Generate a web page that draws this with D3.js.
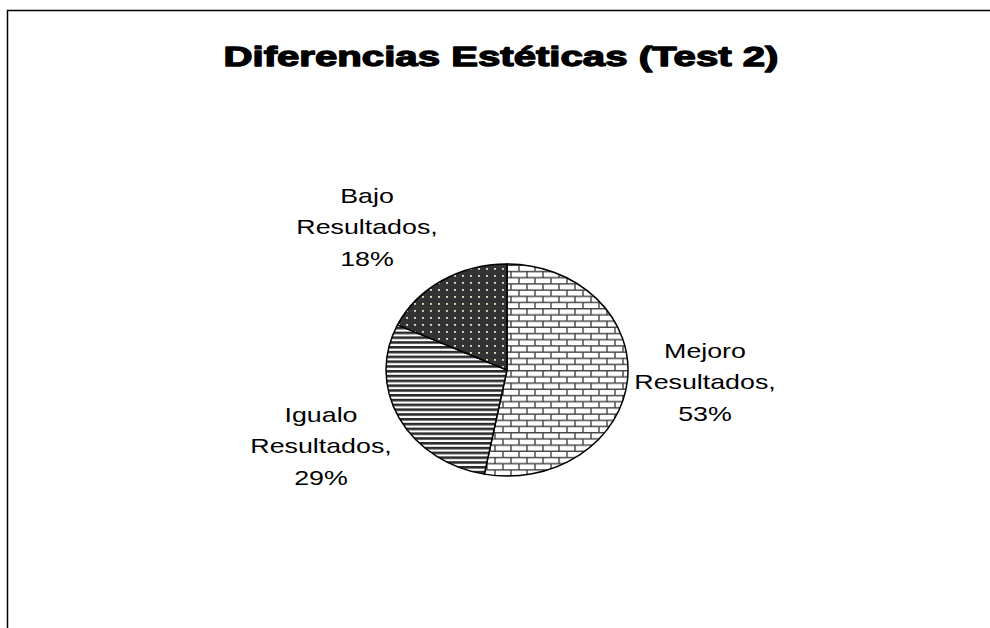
<!DOCTYPE html>
<html>
<head>
<meta charset="utf-8">
<script src="https://cdn.jsdelivr.net/npm/d3@7"></script>
<style>
  html, body { margin: 0; padding: 0; background: #fff; }
  svg { display: block; }
</style>
</head>
<body>
<svg id="chart" width="990" height="628"></svg>
<script>
// ---- data ----
const title = "Diferencias Estéticas (Test 2)";
const categories = ["Mejoro Resultados", "Igualo Resultados", "Bajo Resultados"];
const values = [53, 29, 18];
const patterns = ["brick", "hstripe", "dots"];

// ---- layout ----
const W = 990, H = 628;
const cx = 507, cy = 370, rx = 121, ry = 106;
// first-line baseline offsets of each label relative to pie centre (layout only)
const labelOffsets = [[198, -12], [-186, 52], [-140, -167]];
const lineGap = 31.5;
const textStretch = 1.34;

const svg = d3.select("#chart");
const defs = svg.append("defs");
const k = rx / ry;

// brick pattern
const pb = defs.append("pattern").attr("id", "brick")
  .attr("patternUnits", "userSpaceOnUse").attr("width", 16).attr("height", 12.4)
  .attr("patternTransform", `scale(1, ${k})`);
pb.append("rect").attr("width", 16).attr("height", 12.4).attr("fill", "#fff");
pb.append("path").attr("d", "M0,0.7H16 M0,6.9H16 M4,0V6.2 M12,6.2V12.4")
  .attr("stroke", "#444").attr("stroke-width", 1.4).attr("fill", "none");

// horizontal stripes
const ph = 4.8;
const ps = defs.append("pattern").attr("id", "hstripe")
  .attr("patternUnits", "userSpaceOnUse").attr("width", 8).attr("height", ph)
  .attr("patternTransform", `scale(1, ${k})`);
ps.append("rect").attr("width", 8).attr("height", ph).attr("fill", "#fff");
ps.append("rect").attr("y", 0).attr("width", 8).attr("height", 2.6).attr("fill", "#2a2a2a");

// dots
const pd = defs.append("pattern").attr("id", "dots")
  .attr("patternUnits", "userSpaceOnUse").attr("width", 8).attr("height", 14)
  .attr("patternTransform", `scale(1, ${k})`);
pd.append("rect").attr("width", 8).attr("height", 14).attr("fill", "#333");
pd.append("rect").attr("x", 3).attr("y", 3).attr("width", 2).attr("height", 1.8).attr("fill", "#dcdcbc");
pd.append("rect").attr("x", 3).attr("y", 10).attr("width", 2).attr("height", 1.8).attr("fill", "#dcdcbc");

// frame
svg.append("path").attr("d", `M7.5,${H+5} V10.5 H${W+5}`)
  .attr("fill", "none").attr("stroke", "#000").attr("stroke-width", 1.5);

// title
svg.append("text")
  .attr("x", 501).attr("y", 66)
  .attr("text-anchor", "middle")
  .attr("font-family", "'Liberation Sans', Arial, sans-serif")
  .attr("font-weight", "bold")
  .attr("font-size", 28)
  .attr("stroke", "#000").attr("stroke-width", 1.3)
  .attr("stroke-linejoin", "round")
  .attr("textLength", 555).attr("lengthAdjust", "spacingAndGlyphs")
  .attr("fill", "#000")
  .text(title);

// pie
const pie = d3.pie().sort(null).value(d => d)(values);
const arc = d3.arc().innerRadius(0).outerRadius(rx);
const g = svg.append("g").attr("transform", `translate(${cx},${cy}) scale(1, ${ry/rx})`);
g.selectAll("path.slice").data(pie).join("path")
  .attr("class", "slice")
  .attr("d", arc)
  .attr("fill", (d, i) => `url(#${patterns[i]})`)
  .attr("stroke", "#000")
  .attr("stroke-width", 1.5)
  .attr("vector-effect", "non-scaling-stroke")
  .attr("stroke-linejoin", "round");

// labels
const lg = svg.append("g")
  .attr("font-family", "'Liberation Sans', Arial, sans-serif")
  .attr("font-size", 20)
  .attr("fill", "#000")
  .attr("text-anchor", "middle");
const total = d3.sum(values);
pie.forEach((d, i) => {
  const x = cx + labelOffsets[i][0];
  const y0 = cy + labelOffsets[i][1];
  const t = lg.append("text")
    .attr("transform", `translate(${x},${y0}) scale(${textStretch},1)`);
  const pct = Math.round(100 * d.data / total) + "%";
  const words = categories[i].split(" ");
  const lines = [words[0], words[1] + ",", pct];
  lines.forEach((ln, j) => {
    t.append("tspan").attr("x", 0).attr("y", j * lineGap).text(ln);
  });
});
</script>
</body>
</html>
